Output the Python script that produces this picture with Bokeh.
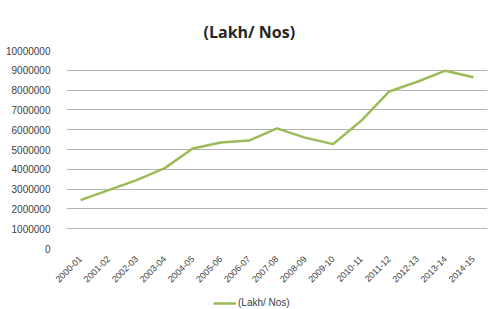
from math import pi
from bokeh.plotting import figure
from bokeh.layouts import column
from bokeh.models import FactorRange, Range1d, FixedTicker, BasicTickFormatter, Legend
from bokeh.embed import file_html
from bokeh.resources import INLINE

years = ["2000-01", "2001-02", "2002-03", "2003-04", "2004-05", "2005-06", "2006-07",
         "2007-08", "2008-09", "2009-10", "2010-11", "2011-12", "2012-13", "2013-14", "2014-15"]
values = [2440000, 2950000, 3450000, 4060000, 5050000, 5350000, 5450000,
          6070000, 5600000, 5270000, 6450000, 7930000, 8420000, 8980000, 8650000]
y_ticks = [0, 1000000, 2000000, 3000000, 4000000, 5000000, 6000000, 7000000, 8000000, 9000000, 10000000]
series_name = "(Lakh/ Nos)"
title_text = "(Lakh/ Nos)"
line_color = "#9BBB59"

p = figure(x_range=FactorRange(*years), y_range=Range1d(0, 10000000),
           width=492, height=295,
           min_border_left=66, min_border_right=5, min_border_top=50, min_border_bottom=47,
           output_backend="svg", toolbar_location=None)
p.outline_line_color = None
p.background_fill_color = "white"
p.border_fill_color = "white"

r = p.line(years, values, line_color=line_color, line_width=2.5)

p.title.text = title_text
p.title.align = "left"
p.title.offset = 137
p.title.text_font = "Open Sans"
p.title.text_font_style = "bold"
p.title.text_font_size = "16px"
p.title.text_color = "#262626"
p.title.standoff = 15

p.yaxis.ticker = FixedTicker(ticks=y_ticks)
p.yaxis.formatter = BasicTickFormatter(use_scientific=False)
p.yaxis.axis_line_color = None
p.yaxis.major_tick_line_color = None
p.yaxis.minor_tick_line_color = None
p.yaxis.major_label_standoff = 10
p.yaxis.major_label_text_font = "Liberation Sans"
p.yaxis.major_label_text_font_size = "10px"
p.yaxis.major_label_text_color = "#404040"

p.xaxis.axis_line_color = None
p.xaxis.major_tick_line_color = None
p.xaxis.major_label_orientation = pi / 4
p.xaxis.major_label_standoff = 3
p.xaxis.major_label_text_font = "Liberation Sans"
p.xaxis.major_label_text_font_size = "9px"
p.xaxis.major_label_text_color = "#404040"

p.xgrid.grid_line_color = None
p.ygrid.grid_line_color = "#b3b3b3"
p.ygrid.grid_line_width = 1

# small strip below the chart holding the legend (series key)
q = figure(x_range=p.x_range, y_range=p.y_range, width=492, height=14,
           min_border_left=0, min_border_right=0, min_border_top=0, min_border_bottom=0,
           output_backend="svg", toolbar_location=None)
q.xaxis.visible = False
q.yaxis.visible = False
q.xgrid.visible = False
q.ygrid.visible = False
q.outline_line_color = None
r_key = q.line(years, values, line_color=line_color, line_width=2.5, visible=False)
legend = Legend(items=[(series_name, [r_key])], location=(147, 1),
                padding=0, margin=0, spacing=0, label_standoff=2,
                glyph_width=23, glyph_height=10, label_height=10,
                label_text_font="Liberation Sans", label_text_font_size="10px",
                label_text_color="#404040", border_line_color=None,
                background_fill_alpha=0)
q.add_layout(legend, "center")

layout = column(p, q, spacing=0)
open("out.html", "w").write(file_html(layout, INLINE))
